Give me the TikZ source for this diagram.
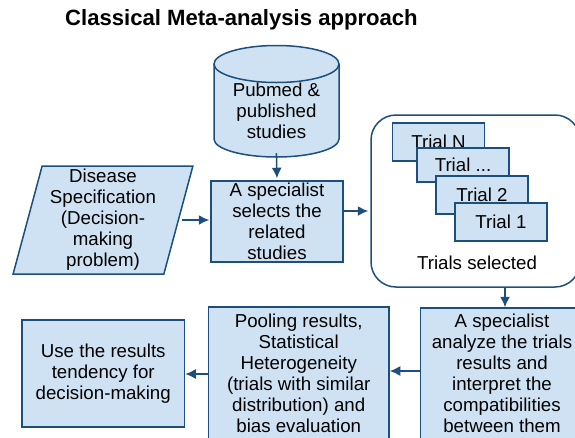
\documentclass[tikz,border=0pt]{standalone}
\usepackage{fontspec}
\setmainfont{Liberation Sans}
\usetikzlibrary{arrows.meta,shapes.geometric}
\definecolor{boxfill}{HTML}{CFE2F3}
\definecolor{boxline}{HTML}{1C4F7C}

\tikzset{box/.style={draw=boxline,fill=boxfill,line width=1.5pt,inner sep=0pt,align=center,font=\fontsize{18.7}{21}\selectfont},
trial/.style={box,minimum width=92pt,minimum height=38pt},
plain label/.style={inner sep=0pt,align=center,font=\fontsize{18.7}{21}\selectfont},
link/.style={draw=boxline,line width=1.5pt,-{Latex[length=10.5pt,width=10pt]}}}

\begin{document}
\begin{tikzpicture}[x=1pt,y=-1pt]
\useasboundingbox (0,0) rectangle (575,437);

%% title
\node [inner sep=0pt,font=\fontsize{22.1}{26}\selectfont\bfseries] (title) at (241.5,20) {Classical Meta-analysis approach};

%% database
\draw [draw=boxline,fill=boxfill,line width=1.5pt] (214,64) -- (214,139) arc [start angle=180,end angle=360,x radius=62.5pt,y radius=18pt] -- (339,64);
\draw [draw=boxline,fill=boxfill,line width=1.5pt] (276.5,64) ellipse [x radius=62.5pt,y radius=18.5pt];
\node [plain label,minimum width=125pt,minimum height=92pt] (pubmed) at (276.5,111) {Pubmed \&\\published\\studies};

%% first row
\node [box,shape=trapezium,trapezium left angle=76,trapezium right angle=104,trapezium stretches=true,minimum width=180pt,minimum height=108pt] (disease) at (103,220) {Disease\\Specification\\(Decision-\\making\\problem)};
\node [box,minimum width=132pt,minimum height=81pt] (specialist) at (277,221.5) {A specialist\\selects the\\related\\studies};

%% trials selected
\node [draw=boxline,line width=1.5pt,rounded corners=25pt,minimum width=209pt,minimum height=172pt] (selected) at (475.5,201) {};
\node [trial] (trialn) at (438.5,142) {Trial N};
\node [trial,minimum height=34pt] (trialdots) at (463,165) {Trial ...};
\node [trial] (trialtwo) at (482,195) {Trial 2};
\node [trial] (trialone) at (501,222) {Trial 1};
\node [plain label] (selectedtext) at (477,263) {Trials selected};

%% second row
\node [box,minimum width=163pt,minimum height=181pt] (analyze) at (502,398.5) {};
\node [plain label] (analyzetext) at (502,373.5) {A specialist\\analyze the trials\\results and\\interpret the\\compatibilities\\between them};
\node [box,minimum width=180.5pt,minimum height=132pt] (pooling) at (298.75,373) {Pooling results,\\Statistical\\Heterogeneity\\(trials with similar\\distribution) and\\bias evaluation};
\node [box,minimum width=162.5pt,minimum height=107pt] (use) at (103.25,373.5) {Use the results\\tendency for\\decision-making};

%% connectors
\draw [link,shorten <=-4pt,shorten >=2pt] (pubmed.south) -- (specialist.north);
\draw [link,shorten <=3pt,shorten >=1pt] (disease.east) -- (disease.east -| specialist.west);
\draw [link,shorten >=2pt] (specialist.east |- 0,211) -- (selected.west |- 0,211);
\draw [link] (selected.south -| 505,0) -- (analyze.north -| 505,0);
\draw [link] (analyze.west |- 0,371) -- (pooling.east |- 0,371);
\draw [link] (pooling.west |- 0,374) -- (use.east |- 0,374);

\end{tikzpicture}
\end{document}
